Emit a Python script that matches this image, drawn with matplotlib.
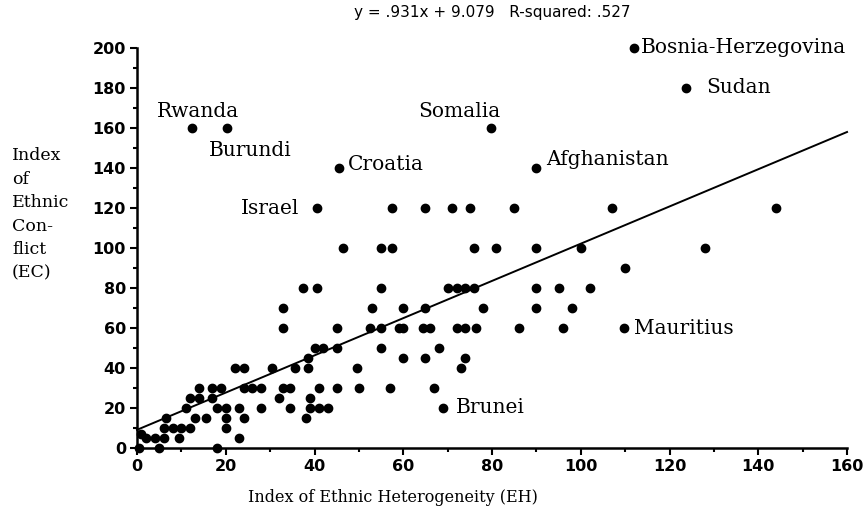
import numpy as np
import matplotlib.pyplot as plt
from matplotlib.ticker import MultipleLocator

# unlabeled countries: ethnic heterogeneity (EH) and ethnic conflict (EC)
eh = [57.5, 65, 71, 75, 85, 107, 144,
      46.5, 55, 57.5, 76, 81, 90, 100, 128,
      110,
      37.5, 40.5, 55, 70, 72, 74, 76, 90, 95, 102,
      33, 53, 60, 65, 78, 90, 98,
      33, 45, 52.5, 55, 59, 60, 64.5, 66, 72, 74, 76.5, 86, 96,
      40, 42, 45, 55, 68,
      38.5, 60, 65, 74,
      22, 24, 30.5, 35.5, 38.5, 49.5, 73,
      14, 17, 19, 24, 26, 28, 33, 34.5, 41, 45, 50, 57, 67,
      12, 14, 17, 32, 39,
      11, 18, 20, 23, 28, 34.5, 39, 41, 43,
      6.5, 13, 15.5, 20, 24, 38,
      6, 8, 10, 12, 20, 1,
      2, 4, 6, 9.5, 23,
      0.5, 5, 18]
ec = [120] * 7 + [100] * 8 + [90] + [80] * 10 + [70] * 7 + [60] * 13 + \
     [50] * 5 + [45] * 4 + [40] * 7 + [30] * 13 + [25] * 5 + [20] * 9 + \
     [15] * 6 + [10] * 5 + [7] + [5] * 5 + [0] * 3

# labeled countries
names = ['Rwanda', 'Burundi', 'Croatia', 'Israel', 'Somalia', 'Afghanistan',
         'Bosnia-Herzegovina', 'Sudan', 'Mauritius', 'Brunei']
name_eh = [12.3, 20.3, 45.5, 40.5, 79.7, 90, 112, 123.7, 109.8, 69]
name_ec = [160, 160, 140, 120, 160, 140, 200, 180, 60, 20]
# label placement (pixel offsets from the dot)
name_off = [(-35, 17), (-18, -22), (9, 4), (-17, 0), (-72, 17), (10, 9),
            (7, 1), (20, 1), (10, 0), (13, 0)]
name_ha = ['left', 'left', 'left', 'right', 'left', 'left',
           'left', 'left', 'left', 'left']

slope, intercept = 0.931, 9.079

serif = 'DejaVu Serif'
sans = 'DejaVu Sans'

fig = plt.figure(figsize=(8.66, 5.2), dpi=100)
ax = fig.add_axes([0.1582, 0.1385, 0.8199, 0.769])

ax.plot(eh, ec, 'o', color='black', markersize=6, clip_on=False)
ax.plot(name_eh, name_ec, 'o', color='black', markersize=6, clip_on=False)

xs = np.array([0, 160])
ax.plot(xs, slope * xs + intercept, color='black', linewidth=1.4, clip_on=False)

for n, x, y, off, ha in zip(names, name_eh, name_ec, name_off, name_ha):
    ax.annotate(n, (x, y), xytext=off, textcoords='offset pixels',
                ha=ha, va='center', fontsize=14.5, family=serif,
                annotation_clip=False)

ax.set_xlim(0, 160)
ax.set_ylim(0, 200)
ax.xaxis.set_major_locator(MultipleLocator(20))
ax.yaxis.set_major_locator(MultipleLocator(20))
ax.xaxis.set_minor_locator(MultipleLocator(10))
ax.yaxis.set_minor_locator(MultipleLocator(10))
for s in ['top', 'right']:
    ax.spines[s].set_visible(False)
for s in ['left', 'bottom']:
    ax.spines[s].set_linewidth(1.8)
ax.tick_params(which='major', direction='out', length=5, width=1.5,
               labelsize=11.5, pad=3)
ax.tick_params(which='minor', direction='out', length=3, width=1.5)
for lab in ax.get_xticklabels() + ax.get_yticklabels():
    lab.set_family(sans)
    lab.set_fontweight('bold')

fig.text(0.568, 0.975, 'y = .931x + 9.079   R-squared: .527',
         ha='center', va='center', fontsize=11, family=sans)
fig.text(0.454, 0.044, 'Index of Ethnic Heterogeneity (EH)', ha='center',
         va='center', fontsize=11.5, family=serif)
fig.text(0.014, 0.717, 'Index\nof\nEthnic\nCon-\nflict\n(EC)',
         ha='left', va='top', fontsize=12.5, family=serif, linespacing=1.5)

fig.savefig('out.png', dpi=100)
